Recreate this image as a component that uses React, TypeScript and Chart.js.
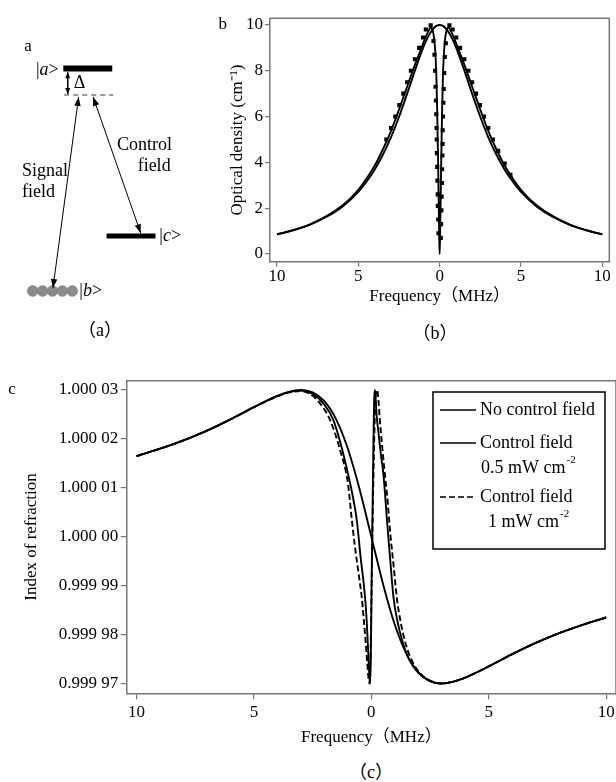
import React, { useEffect, useRef } from 'react';
import { Chart, registerables } from 'chart.js';

Chart.register(...registerables);

const SERIF = '"Liberation Serif", "Times New Roman", "Noto Sans CJK SC", serif';
const AXIS_GREY = '#777777';

// ---------------- Panel (a): three-level scheme (diagram units) ----------------
const aLevelAX = [61, 113];
const aLevelAY = [65, 65];
const aLevelCX = [107, 159];
const aLevelCY = [239, 239];
const aVirtualX = [62, 114];
const aVirtualY = [92.5, 92.5];
const aAtomsX = [28.5, 39, 49.5, 60, 70.5];
const aAtomsY = [296, 296, 296, 296, 296];
const aDeltaX = [65.7, 65.7];
const aDeltaY = [69, 91.5];
const aSignalX = [50, 77.3];
const aSignalY = [293, 94.5];
const aControlX = [92.7, 143.3];
const aControlY = [94.5, 236];
const aTexts = [
  { parts: [{ t: '|' }, { t: 'a', it: true }, { t: '>' }], x: 32, y: 67 },
  { parts: [{ t: 'Δ' }], x: 72, y: 80 },
  { parts: [{ t: 'Control' }], x: 118, y: 145 },
  { parts: [{ t: 'field' }], x: 140, y: 167 },
  { parts: [{ t: 'Signal' }], x: 17, y: 172 },
  { parts: [{ t: 'field' }], x: 17, y: 193 },
  { parts: [{ t: '|' }, { t: 'c', it: true }, { t: '>' }], x: 163, y: 239 },
  { parts: [{ t: '|' }, { t: 'b', it: true }, { t: '>' }], x: 78, y: 296 },
];

// ---------------- Panel (b): optical density ----------------
const bXTicks = [-10, -5, 0, 5, 10];
const bYTicks = [0, 2, 4, 6, 8, 10];
const bFreqNo = [-10, -9, -8, -7, -6, -5, -4.5, -4, -3.5, -3, -2.5, -2, -1.5, -1, -0.7, -0.4, -0.2, 0,
  0.2, 0.4, 0.7, 1, 1.5, 2, 2.5, 3, 3.5, 4, 4.5, 5, 6, 7, 8, 9, 10];
const bOdNo = [0.85, 1.03, 1.27, 1.6, 2.05, 2.71, 3.15, 3.68, 4.32, 5.08, 5.98, 6.99, 8.05, 9.03, 9.5, 9.83, 9.96, 10,
  9.96, 9.83, 9.5, 9.03, 8.05, 6.99, 5.98, 5.08, 4.32, 3.68, 3.15, 2.71, 2.05, 1.6, 1.27, 1.03, 0.85];
const bFreq05 = [-10, -8, -6, -5, -4, -3.5, -3, -2.5, -2, -1.5, -1.2, -0.9, -0.7, -0.55, -0.42, -0.32, -0.25, -0.2, -0.15, -0.1, -0.06, -0.03, 0,
  0.03, 0.06, 0.1, 0.15, 0.2, 0.25, 0.32, 0.42, 0.55, 0.7, 0.9, 1.2, 1.5, 2, 2.5, 3, 3.5, 4, 5, 6, 8, 10];
const bOd05 = [0.85, 1.28, 2.1, 2.8, 3.85, 4.55, 5.35, 6.3, 7.3, 8.3, 8.85, 9.4, 9.72, 9.88, 9.75, 9.3, 8.6, 7.7, 6.2, 4.2, 2.3, 0.9, 0,
  0.9, 2.3, 4.2, 6.2, 7.7, 8.6, 9.3, 9.75, 9.88, 9.72, 9.4, 8.85, 8.3, 7.3, 6.3, 5.35, 4.55, 3.85, 2.8, 2.1, 1.28, 0.85];
const bMarkFreq = [-3.28, -2.99, -2.73, -2.48, -2.24, -2.0, -1.77, -1.52, -1.26, -1.02, -0.85, -0.55,
  -0.38, -0.32, -0.28, -0.25, -0.23, -0.21, -0.19, -0.18, -0.17, -0.15, -0.14, -0.12, -0.11, -0.09, -0.07,
  0.07, 0.09, 0.11, 0.12, 0.14, 0.15, 0.17, 0.18, 0.19, 0.21, 0.23, 0.25, 0.28, 0.32, 0.38,
  0.6, 0.8, 1.02, 1.26, 1.52, 1.77, 2.0, 2.24, 2.48, 2.73, 2.99, 3.28, 3.6, 4.0, 4.35];
const bMarkOd = [5.0, 5.5, 6.0, 6.5, 7.0, 7.5, 8.0, 8.5, 9.0, 9.45, 9.8, 9.98,
  9.3, 8.7, 8.0, 7.3, 6.7, 6.1, 5.5, 5.0, 4.4, 3.8, 3.2, 2.6, 2.1, 1.5, 0.9,
  0.7, 1.3, 1.9, 2.5, 3.1, 3.7, 4.3, 4.8, 5.4, 6.0, 6.6, 7.2, 7.9, 8.6, 9.2,
  9.98, 9.8, 9.45, 9.0, 8.5, 8.0, 7.5, 7.0, 6.5, 6.0, 5.5, 5.0, 4.5, 3.95, 3.45];

// ---------------- Panel (c): index of refraction ----------------
const cXTicks = [-10, -5, 0, 5, 10];
const cYTicks = [0.99997, 0.99998, 0.99999, 1.0, 1.00001, 1.00002, 1.00003];
const cYLabels = ['0.999 97', '0.999 98', '0.999 99', '1.000 00', '1.000 01', '1.000 02', '1.000 03'];
const cSeriesNames = ['No control field', 'Control field', 'Control field'];
const cSeriesSub = ['', '0.5 mW cm', '1 mW cm'];
const cFreqNo = [-10, -9, -8, -7, -6, -5, -4, -3.5, -3, -2.5, -2, -1.5, -1, -0.5, 0,
  0.5, 1, 1.5, 2, 2.5, 3, 3.5, 4, 5, 6, 7, 8, 9, 10];
const cIndexNo = [1.0000165, 1.000018, 1.0000197, 1.0000217, 1.000024, 1.0000265, 1.0000288, 1.0000296, 1.00003,
  1.0000295, 1.0000277, 1.000024, 1.000018, 1.0000097, 1.0,
  0.9999903, 0.999982, 0.999976, 0.9999723, 0.9999705, 0.99997, 0.9999704, 0.9999712, 0.9999735, 0.999976,
  0.9999783, 0.9999803, 0.999982, 0.9999835];
const cFreq05 = [-10, -9, -8, -7, -6, -5, -4, -3.5, -3,
  -2.5, -2, -1.62, -1.33, -1, -0.8, -0.62, -0.45, -0.35, -0.27, -0.2, -0.14, -0.09, -0.05, -0.02,
  0.01, 0.05, 0.09, 0.12, 0.15, 0.18, 0.23, 0.3, 0.4, 0.51, 0.68, 0.8, 0.94, 1.1, 1.3, 1.6, 2, 2.5,
  3, 3.5, 4, 5, 6, 7, 8, 9, 10];
const cIndex05 = [1.0000165, 1.000018, 1.0000197, 1.0000217, 1.000024, 1.0000265, 1.0000288, 1.0000296, 1.0000299,
  1.0000292, 1.000027, 1.0000239, 1.0000194, 1.000013, 1.0000085, 1.0000034, 0.9999955, 0.9999915, 0.9999877, 0.999983, 0.999977, 0.999972, 0.99997, 0.999976,
  0.99999, 1.000005, 1.00002, 1.000028, 1.00003, 1.0000285, 1.0000245, 1.0000215, 1.000017, 1.000013, 1.0000025, 0.9999955, 0.9999877, 0.999983, 0.999979, 0.999975, 0.9999722, 0.9999705,
  0.99997, 0.9999704, 0.9999712, 0.9999735, 0.999976, 0.9999783, 0.9999803, 0.999982, 0.9999835];
const cFreq1 = [-10, -9, -8, -7, -6, -5, -4, -3.5, -3,
  -2.5, -2, -1.76, -1.33, -1, -0.83, -0.7, -0.6, -0.5, -0.41, -0.32, -0.25, -0.18, -0.12, -0.08, -0.04,
  0,
  0.05, 0.1, 0.15, 0.2, 0.25, 0.3, 0.36, 0.45, 0.55, 0.68, 0.8, 0.95, 1.08, 1.25, 1.5, 1.8, 2.2, 2.6,
  3, 3.5, 4, 5, 6, 7, 8, 9, 10];
const cIndex1 = [1.0000165, 1.000018, 1.0000197, 1.0000217, 1.000024, 1.0000265, 1.0000287, 1.0000295, 1.0000298,
  1.0000288, 1.000026, 1.0000239, 1.0000177, 1.000011, 1.0000034, 0.999998, 0.9999945, 0.999991, 0.9999877, 0.999983, 0.999979, 0.9999745, 0.999971, 0.99997, 0.999975,
  0.999986,
  1.000002, 1.000015, 1.000025, 1.0000295, 1.00003, 1.000028, 1.000024, 1.000019, 1.000014, 1.000008, 1.000001, 0.999994, 0.9999877, 0.9999825, 0.9999775, 0.999974, 0.9999715, 0.9999704,
  0.99997, 0.9999704, 0.9999712, 0.9999735, 0.999976, 0.9999783, 0.9999803, 0.999982, 0.9999835];

function zip(xs: number[], ys: number[]) {
  return xs.map((x, i) => ({ x, y: ys[i] }));
}

function drawHead(ctx: CanvasRenderingContext2D, tx: number, ty: number, fx: number, fy: number, len: number, half: number) {
  const a = Math.atan2(ty - fy, tx - fx);
  const bx = tx - len * Math.cos(a);
  const by = ty - len * Math.sin(a);
  const px = -Math.sin(a) * half;
  const py = Math.cos(a) * half;
  ctx.beginPath();
  ctx.moveTo(tx, ty);
  ctx.lineTo(bx + px, by + py);
  ctx.lineTo(bx - px, by - py);
  ctx.closePath();
  ctx.fill();
}

const diagramPlugin = {
  id: 'diagram',
  afterDatasetsDraw(chart: any) {
    const ctx = chart.ctx as CanvasRenderingContext2D;
    ctx.save();
    ctx.fillStyle = '#000';
    chart.data.datasets.forEach((ds: any, i: number) => {
      if (!ds.arrowHeads) return;
      const pts = chart.getDatasetMeta(i).data;
      const p0 = pts[0];
      const p1 = pts[pts.length - 1];
      drawHead(ctx, p1.x, p1.y, p0.x, p0.y, ds.headLen, ds.headHalf);
      drawHead(ctx, p0.x, p0.y, p1.x, p1.y, ds.headLen, ds.headHalf);
    });
    const xs = chart.scales.x;
    const ys = chart.scales.y;
    ctx.textBaseline = 'middle';
    ctx.textAlign = 'left';
    aTexts.forEach((item) => {
      let x = xs.getPixelForValue(item.x);
      const y = ys.getPixelForValue(item.y);
      item.parts.forEach((p: any) => {
        ctx.font = `${p.it ? 'italic ' : ''}18px ${SERIF}`;
        ctx.fillText(p.t, x, y);
        x += ctx.measureText(p.t).width;
      });
    });
    ctx.restore();
  },
};

const framePlugin = {
  id: 'frame',
  afterDraw(chart: any) {
    const { ctx, chartArea: a } = chart;
    ctx.save();
    ctx.strokeStyle = AXIS_GREY;
    ctx.lineWidth = 1.5;
    ctx.beginPath();
    ctx.moveTo(a.left, a.top);
    ctx.lineTo(a.right, a.top);
    ctx.lineTo(a.right, a.bottom);
    ctx.stroke();
    ctx.restore();
  },
};

const boxLegendPlugin = {
  id: 'boxLegend',
  afterDraw(chart: any) {
    const { ctx, chartArea: a } = chart;
    const left = a.right - 183;
    const top = a.top + 11.3;
    ctx.save();
    ctx.fillStyle = '#fff';
    ctx.fillRect(left, top, 172, 157);
    ctx.strokeStyle = '#000';
    ctx.lineWidth = 1.5;
    ctx.strokeRect(left, top, 172, 157);
    const rows = [18, 51, 105];
    const subDy = [0, 25, 25];
    const subDx = [0, 48, 55];
    ctx.textBaseline = 'middle';
    ctx.textAlign = 'left';
    chart.data.datasets.forEach((ds: any, i: number) => {
      const y = top + rows[i];
      ctx.strokeStyle = ds.borderColor;
      ctx.lineWidth = 1.6;
      ctx.setLineDash(ds.borderDash || []);
      ctx.beginPath();
      ctx.moveTo(left + 7, y);
      ctx.lineTo(left + 43, y);
      ctx.stroke();
      ctx.setLineDash([]);
      ctx.fillStyle = '#000';
      ctx.font = `18px ${SERIF}`;
      ctx.fillText(cSeriesNames[i], left + 47, y);
      if (cSeriesSub[i]) {
        const sy = y + subDy[i];
        const sx = left + subDx[i];
        ctx.font = `18px ${SERIF}`;
        ctx.fillText(cSeriesSub[i], sx, sy);
        const w = ctx.measureText(cSeriesSub[i]).width;
        ctx.font = `11px ${SERIF}`;
        ctx.fillText('-2', sx + w + 1, sy - 8);
      }
    });
    ctx.restore();
  },
};

const tickFont = { family: SERIF, size: 17 };
const titleFont = { family: SERIF, size: 17 };

function gridOpts(len: number) {
  return { display: true, drawOnChartArea: false, drawTicks: true, tickLength: len, color: AXIS_GREY, lineWidth: 1.2 };
}

function makeA(canvas: HTMLCanvasElement) {
  const line = (label: string, xs: number[], ys: number[], extra: any) => ({
    label, data: zip(xs, ys), showLine: true, pointRadius: 0, borderColor: '#000', borderWidth: 1, ...extra,
  });
  return new Chart(canvas, {
    type: 'scatter',
    data: {
      datasets: [
        line('|a>', aLevelAX, aLevelAY, { borderWidth: 6, borderCapStyle: 'butt' }),
        line('|c>', aLevelCX, aLevelCY, { borderWidth: 5, borderCapStyle: 'butt' }),
        line('virtual', aVirtualX, aVirtualY, { borderWidth: 1, borderDash: [5, 4], borderColor: '#333' }),
        line('delta', aDeltaX, aDeltaY, { arrowHeads: true, headLen: 6, headHalf: 2.5 }),
        line('signal', aSignalX, aSignalY, { arrowHeads: true, headLen: 9, headHalf: 3.2 }),
        line('control', aControlX, aControlY, { arrowHeads: true, headLen: 9, headHalf: 3.2 }),
        {
          label: '|b>', data: zip(aAtomsX, aAtomsY), showLine: false, pointRadius: 5.4,
          backgroundColor: '#8a8a8a', borderColor: '#7a7a7a', borderWidth: 0.5,
        },
      ] as any,
    },
    options: {
      responsive: false,
      animation: false,
      layout: { padding: 0 },
      plugins: { legend: { display: false }, tooltip: { enabled: false } },
      scales: {
        x: { type: 'linear', min: 0, max: 200, display: false },
        y: { type: 'linear', min: 0, max: 320, reverse: true, display: false },
      },
    } as any,
    plugins: [diagramPlugin],
  });
}

function makeB(canvas: HTMLCanvasElement) {
  return new Chart(canvas, {
    type: 'scatter',
    data: {
      datasets: [
        {
          label: 'No control field', data: zip(bFreqNo, bOdNo), showLine: true, pointRadius: 0,
          borderColor: '#000', borderWidth: 1.9, cubicInterpolationMode: 'monotone',
        },
        {
          label: 'Control field 0.5 mW cm-2', data: zip(bFreq05, bOd05), showLine: true, pointRadius: 0,
          borderColor: '#000', borderWidth: 1.9, cubicInterpolationMode: 'monotone',
        },
        {
          label: 'Control field 1 mW cm-2', data: zip(bMarkFreq, bMarkOd), showLine: false,
          pointStyle: 'rect', pointRadius: 2.9, backgroundColor: '#000', borderColor: '#000', borderWidth: 0,
        },
      ] as any,
    },
    options: {
      responsive: false,
      animation: false,
      layout: { padding: { top: 18.3, right: 6.7, left: 0, bottom: 0 } },
      plugins: { legend: { display: false }, tooltip: { enabled: false } },
      scales: {
        x: {
          type: 'linear', min: -10.43, max: 10.43,
          afterBuildTicks: (s: any) => { s.ticks = bXTicks.map((v) => ({ value: v })); },
          afterFit: (s: any) => { s.height = 83.3; s.paddingLeft = 0; s.paddingRight = 0; },
          ticks: { font: tickFont, color: '#000', padding: 0, maxRotation: 0, callback: (v: any) => String(Math.abs(Number(v))) },
          grid: gridOpts(5),
          border: { display: true, color: AXIS_GREY, width: 1.5 },
          title: { display: true, text: 'Frequency（MHz）', font: titleFont, color: '#000', padding: { top: 0, bottom: 38 } },
        },
        y: {
          type: 'linear', min: -0.34, max: 10.29,
          afterBuildTicks: (s: any) => { s.ticks = bYTicks.map((v) => ({ value: v })); },
          afterFit: (s: any) => { s.width = 70; s.paddingTop = 0; s.paddingBottom = 0; },
          ticks: { font: tickFont, color: '#000', padding: 2 },
          grid: gridOpts(5),
          border: { display: true, color: AXIS_GREY, width: 1.5 },
          title: { display: true, text: 'Optical density (cm⁻¹)', font: titleFont, color: '#000', padding: { top: 27.8, bottom: 0 } },
        },
      },
    } as any,
    plugins: [framePlugin],
  });
}

function makeC(canvas: HTMLCanvasElement) {
  return new Chart(canvas, {
    type: 'scatter',
    data: {
      datasets: [
        {
          label: 'No control field', data: zip(cFreqNo, cIndexNo), showLine: true, pointRadius: 0,
          borderColor: '#000', borderWidth: 1.9, cubicInterpolationMode: 'monotone',
        },
        {
          label: 'Control field 0.5 mW cm-2', data: zip(cFreq05, cIndex05), showLine: true, pointRadius: 0,
          borderColor: '#000', borderWidth: 1.9, cubicInterpolationMode: 'monotone',
        },
        {
          label: 'Control field 1 mW cm-2', data: zip(cFreq1, cIndex1), showLine: true, pointRadius: 0,
          borderColor: '#000', borderWidth: 1.9, borderDash: [6, 3], cubicInterpolationMode: 'monotone',
        },
      ] as any,
    },
    options: {
      responsive: false,
      animation: false,
      layout: { padding: { top: 20.7, right: 0, left: 0, bottom: 0 } },
      plugins: { legend: { display: false }, tooltip: { enabled: false } },
      scales: {
        x: {
          type: 'linear', min: -10.42, max: 10.42,
          afterBuildTicks: (s: any) => { s.ticks = cXTicks.map((v) => ({ value: v })); },
          afterFit: (s: any) => { s.height = 66.7; s.paddingLeft = 0; s.paddingRight = 0; },
          ticks: { font: tickFont, color: '#000', padding: 3, maxRotation: 0, callback: (v: any) => String(Math.abs(Number(v))) },
          grid: gridOpts(6),
          border: { display: true, color: AXIS_GREY, width: 1.5 },
          title: { display: true, text: 'Frequency（MHz）', font: titleFont, color: '#000', padding: { top: 0, bottom: 11.8 } },
        },
        y: {
          type: 'linear', min: 0.999968, max: 1.0000319,
          afterBuildTicks: (s: any) => { s.ticks = cYTicks.map((v) => ({ value: v })); },
          afterFit: (s: any) => { s.width = 126.7; s.paddingTop = 0; s.paddingBottom = 0; },
          ticks: { font: tickFont, color: '#000', padding: 2.4, callback: (_v: any, i: number) => cYLabels[i] },
          grid: gridOpts(6),
          border: { display: true, color: AXIS_GREY, width: 1.5 },
          title: { display: true, text: 'Index of refraction', font: titleFont, color: '#000', padding: { top: 21.8, bottom: 0 } },
        },
      },
    } as any,
    plugins: [framePlugin, boxLegendPlugin],
  });
}

const captionStyle = (x: number, y: number, size: number): React.CSSProperties => ({
  position: 'absolute', left: x, top: y, transform: 'translate(-50%, -50%)',
  fontFamily: SERIF, fontSize: size, lineHeight: 1, whiteSpace: 'nowrap', color: '#000',
});

export default function App() {
  const aRef = useRef<HTMLCanvasElement>(null);
  const bRef = useRef<HTMLCanvasElement>(null);
  const cRef = useRef<HTMLCanvasElement>(null);

  useEffect(() => {
    const charts = [makeA(aRef.current!), makeB(bRef.current!), makeC(cRef.current!)];
    return () => charts.forEach((c) => c.destroy());
  }, []);

  return (
    <div style={{ position: 'fixed', left: 0, top: 0, width: 616, height: 782, background: '#fff', overflow: 'hidden' }}>
      <canvas ref={aRef} width={200} height={320} style={{ position: 'absolute', left: 0, top: 0, display: 'block' }} />
      <canvas ref={bRef} width={416} height={345} style={{ position: 'absolute', left: 200, top: 0, display: 'block' }} />
      <canvas ref={cRef} width={616} height={400} style={{ position: 'absolute', left: 0, top: 360, display: 'block' }} />
      <div style={captionStyle(28, 45, 17)}>a</div>
      <div style={captionStyle(222.7, 23.3, 17)}>b</div>
      <div style={captionStyle(12, 388, 17)}>c</div>
      <div style={captionStyle(100, 330, 18)}>（a）</div>
      <div style={captionStyle(435, 333, 18)}>（b）</div>
      <div style={captionStyle(371, 772, 18)}>（c）</div>
    </div>
  );
}
